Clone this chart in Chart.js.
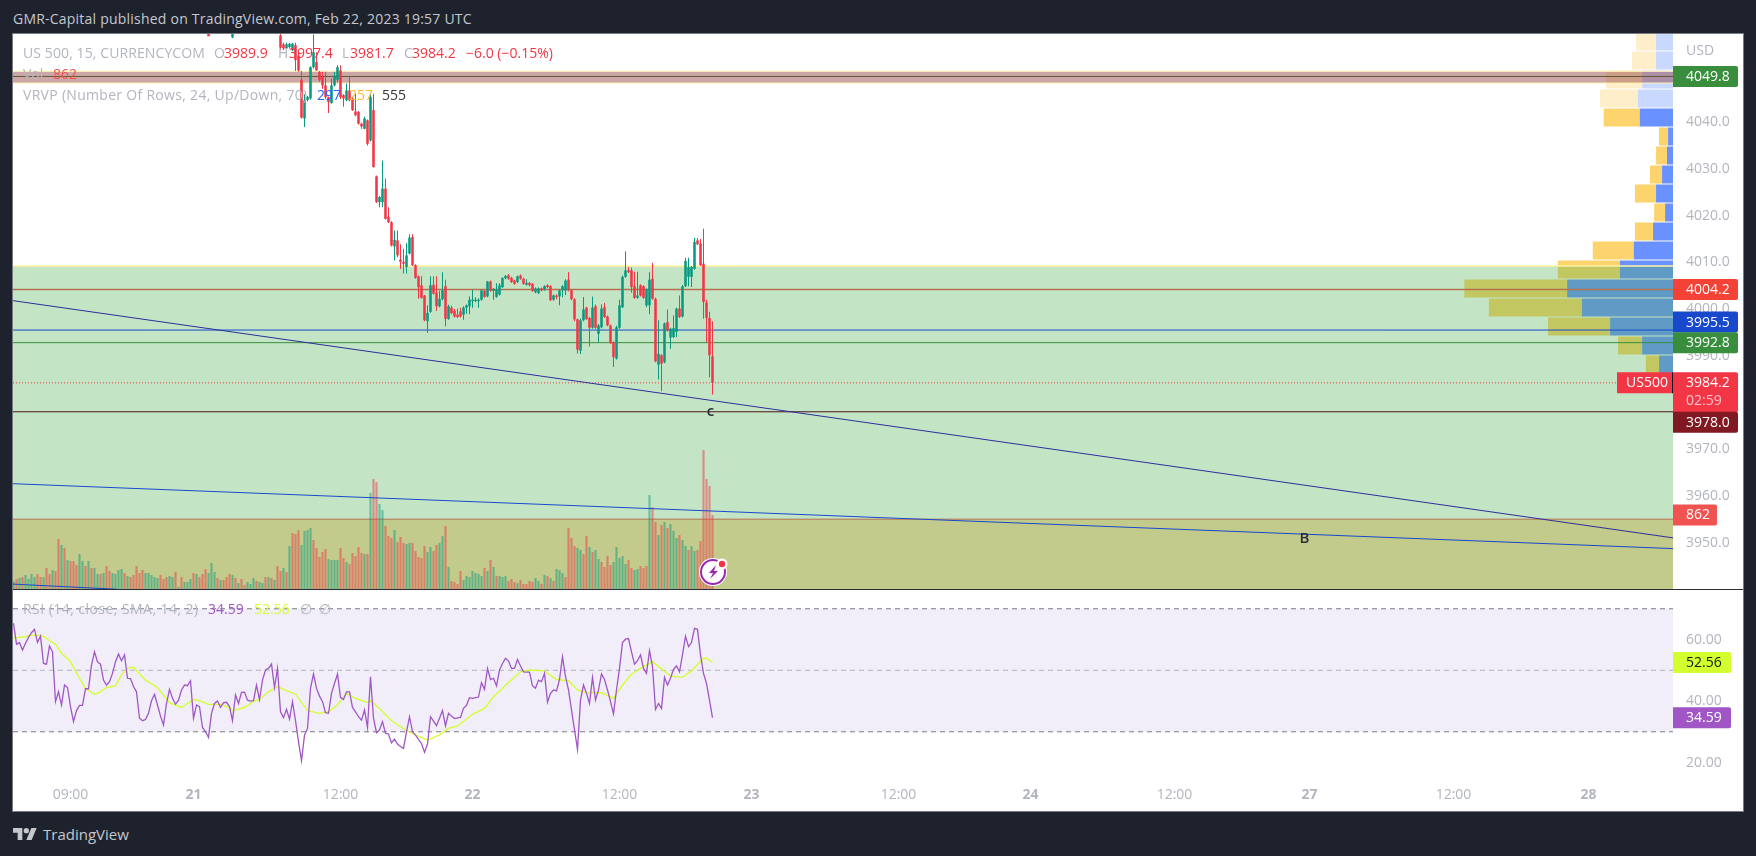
<!DOCTYPE html>
<html>
<head>
<meta charset="utf-8">
<title>US 500, 15</title>
<script src="https://cdn.jsdelivr.net/npm/chart.js@4/dist/chart.umd.min.js"></script>
<style>
  html, body { margin: 0; padding: 0; width: 1756px; height: 856px; overflow: hidden; background: #1e222d; }
  body, canvas { font-family: "Open Sans", sans-serif; }
  #frame { position: absolute; left: 12px; top: 33px; width: 1730px; height: 777px; background: #fff; border: 1px solid #787b86; }
  #divider { position: absolute; left: 13px; top: 589px; width: 1730px; height: 1px; background: #2a2e39; z-index: 5; }
  canvas { position: absolute; }
  #vrvp { left: 1433px; top: 32px; clip-path: inset(2px 0 0 0); }
  #main { left: 13px; top: 34px; }
  #rsi { left: 13px; top: 590px; }
  .t { position: absolute; white-space: nowrap; font-size: 14px; line-height: 18px; color: #b2b5be; z-index: 6; }
  .r { color: #f23645; }
  svg { position: absolute; z-index: 6; }
</style>
</head>
<body>
<div id="frame"></div>
<canvas id="vrvp" width="240" height="342"></canvas>
<canvas id="main" width="1730" height="555"></canvas>
<canvas id="rsi" width="1730" height="221"></canvas>
<div id="divider"></div>

<div class="t" style="left:13px;top:10px;color:#c5c7cd;letter-spacing:.22px">GMR-Capital published on TradingView.com, Feb 22, 2023 19:57 UTC</div>

<!-- legend rows -->
<div class="t" style="left:23px;top:44px;letter-spacing:.1px">US 500, 15, CURRENCYCOM</div>
<div class="t" style="left:214px;top:44px">O</div><div class="t r" style="left:224px;top:44px">3989.9</div>
<div class="t" style="left:278px;top:44px">H</div><div class="t r" style="left:289px;top:44px">3997.4</div>
<div class="t" style="left:342px;top:44px">L</div><div class="t r" style="left:350px;top:44px">3981.7</div>
<div class="t" style="left:404px;top:44px">C</div><div class="t r" style="left:412px;top:44px">3984.2</div>
<div class="t r" style="left:466px;top:44px">−6.0 (−0.15%)</div>
<div class="t" style="left:23px;top:65px">Vol</div><div class="t" style="left:53px;top:65px;color:#f05350">862</div>
<div class="t" style="left:23px;top:86px;letter-spacing:.3px">VRVP (Number Of Rows, 24, Up/Down, 70)</div>
<div class="t" style="left:317px;top:86px;color:#2962ff">297</div>
<div class="t" style="left:349px;top:86px;color:#ffb62f">257</div>
<div class="t" style="left:382px;top:86px;color:#333">555</div>
<div class="t" style="left:1686px;top:41px">USD</div>

<div class="t" style="left:23px;top:600px;letter-spacing:.45px">RSI (14, close, SMA, 14, 2)</div>
<div class="t" style="left:208px;top:600px;color:#a056c5">34.59</div>
<div class="t" style="left:254px;top:600px;color:#d4ff2e">52.56</div>
<div class="t" style="left:300px;top:600px">∅</div>
<div class="t" style="left:319px;top:600px">∅</div>

<!-- alert badge -->
<svg style="left:695px;top:554px" width="36" height="36" viewBox="0 0 36 36">
  <circle cx="18" cy="18" r="14" fill="#fff"/>
  <circle cx="18" cy="18" r="12" fill="#fff" stroke="#9c27b0" stroke-width="2"/>
  <path d="M21 11l-7 8h4l-3 6 8-8h-4z" fill="#9c27b0"/>
  <circle cx="27" cy="10" r="5.5" fill="#fff"/>
  <circle cx="27" cy="10" r="3.2" fill="#f23645"/>
</svg>

<!-- footer -->
<svg style="left:13px;top:827px" width="24" height="14" viewBox="0 4 36 18">
  <path d="M14 22H7V11H0V4h14v18zM28 22h-8l7.5-18h8L28 22z" fill="#c5c7cd"/>
  <circle cx="20" cy="8" r="4" fill="#c5c7cd"/>
</svg>
<div class="t" style="left:43px;top:825px;font-size:15px;font-weight:500;color:#c5c7cd">TradingView</div>

<script>
// US 500 15 min. Bars are spaced by index.
const FONT = '"Open Sans", sans-serif';
const RED = '#f23645';
const TEAL = '#089981';

// Bars above the top of the pane are left out, only these two poke into view
const topIdx = [65, 73];
const firstCandle = 89;

const candleOpen = [4059.5, 4058.2,
  4058.6,4056.7,4055.8,4056.1,4055.4,4056.5,4054.3,4049.1,4040.8,4044.8,
  4045.1,4051.8,4052.9,4050.8,4049.7,4047.9,4045.4,4044.1,4047.9,4049.1,
  4051.1,4045.8,4044.7,4046.8,4045.1,4042.3,4042.2,4039.7,4038.6,4040.4,
  4036.1,4042.6,4028.4,4022.9,4022.9,4025.8,4019.8,4018.6,4013.4,4014.7,
  4010.6,4010.1,4009.0,4011.9,4015.4,4009.4,4007.0,4005.1,4002.9,3997.4,
  3999.4,4005.2,4003.5,4000.6,4002.1,4004.9,3997.9,4000.3,3999.6,3998.8,
  3999.5,3998.8,4000.3,4000.6,4001.7,4001.7,4001.7,4002.0,4003.9,4002.7,
  4005.9,4003.9,4002.6,4003.1,4004.7,4006.6,4007.2,4006.7,4006.1,4005.8,
  4007.2,4006.5,4005.2,4005.6,4005.4,4003.6,4003.4,4004.4,4004.1,4005.1,
  4004.9,4002.0,4002.9,4002.7,4004.0,4004.0,4006.3,4004.0,4002.1,3997.8,
  3991.1,3997.6,4000.3,3998.1,3996.0,4000.6,3994.7,3996.1,4000.4,3998.4,
  3996.5,3992.9,3989.4,3996.0,4000.4,4006.9,4008.3,4008.3,4004.9,4002.4,
  4005.1,4004.9,4000.8,4000.8,4006.5,4002.2,3988.1,3990.1,3988.6,3997.2,
  3993.9,3994.0,3995.1,4000.1,3998.4,4004.9,4006.9,4006.9,4008.6,4014.7,
  4014.0,4009.7,4001.4,3998.1,3989.9];
const candleHigh = [4060.5, 4059.2,
  4059.0,4057.0,4057.0,4057.0,4057.0,4057.0,4055.0,4051.0,4046.0,4045.6,
  4052.0,4058.8,4055.0,4051.0,4050.8,4050.8,4045.5,4049.3,4050.8,4052.2,
  4052.2,4046.0,4048.3,4049.7,4045.3,4046.1,4042.4,4039.9,4041.2,4040.6,
  4046.0,4046.1,4028.6,4024.2,4031.8,4027.9,4021.8,4018.8,4016.8,4016.8,
  4013.9,4012.9,4014.1,4016.0,4016.0,4009.6,4007.2,4007.0,4003.0,4000.8,
  4007.0,4007.0,4007.0,4003.9,4007.9,4006.3,4000.9,4000.7,4000.0,4000.1,
  4000.3,4000.6,4001.0,4002.7,4004.1,4002.5,4002.3,4004.2,4004.1,4006.0,
  4006.1,4004.5,4005.5,4005.5,4006.8,4007.3,4007.5,4006.9,4006.3,4007.2,
  4007.4,4006.7,4006.4,4005.8,4005.6,4004.6,4004.6,4004.6,4005.1,4005.3,
  4005.1,4003.1,4003.1,4004.2,4005.1,4006.4,4007.9,4004.2,4002.3,3998.0,
  3997.9,4002.6,4000.5,3998.3,4002.7,4001.0,3996.8,4001.0,4001.3,3998.6,
  3996.7,3993.1,3996.4,4002.0,4007.2,4012.3,4009.0,4008.9,4008.0,4008.0,
  4005.3,4005.1,4004.4,4007.9,4009.9,4002.4,3997.6,3990.3,3997.1,3999.9,
  3996.0,3998.6,4000.3,4002.9,4005.1,4011.0,4011.0,4009.2,4015.2,4015.2,
  4015.0,4017.2,4002.0,3999.4,3997.4];
const candleLow = [4059.0, 4058.0,
  4055.5,4055.5,4055.5,4055.8,4055.2,4051.0,4050.8,4040.8,4039.0,4044.5,
  4044.8,4051.5,4051.0,4048.7,4047.2,4045.0,4042.0,4044.0,4047.7,4048.5,
  4045.0,4043.3,4044.5,4044.5,4042.4,4041.3,4039.5,4038.6,4038.5,4035.0,
  4035.9,4030.3,4022.7,4021.8,4021.8,4019.2,4018.4,4013.4,4010.4,4011.1,
  4008.6,4007.6,4007.6,4011.7,4009.2,4006.5,4002.2,4002.2,3997.4,3994.9,
  3999.2,4003.1,3999.6,4000.4,4001.9,3996.3,3997.7,3998.9,3998.2,3998.1,
  3998.2,3997.7,3999.0,3998.9,4000.3,4001.5,4000.3,4001.8,4002.4,4002.5,
  4003.7,4002.0,4002.4,4002.9,4004.5,4006.4,4006.3,4005.6,4005.2,4005.6,
  4006.3,4005.2,4005.0,4004.9,4003.7,4003.4,4003.2,4003.8,4003.9,4004.5,
  4001.7,4001.8,4002.1,4000.8,4002.5,4003.0,4003.8,4001.9,3997.4,3990.5,
  3990.4,3997.4,3997.7,3992.0,3995.8,3995.8,3992.9,3995.9,3998.1,3996.3,
  3992.5,3987.6,3989.2,3995.8,4000.2,4006.7,4007.7,4003.5,4002.2,4002.2,
  4002.7,4002.2,4000.4,3998.9,4002.0,3988.6,3984.9,3982.4,3988.4,3995.2,
  3991.5,3993.8,3994.0,3998.1,3998.2,4004.7,4004.9,4004.7,4008.4,4013.7,
  4009.2,3997.9,3992.9,3985.4,3981.7];
const candleClose = [4058.4, 4059.0,
  4056.0,4055.8,4056.7,4056.8,4056.8,4053.3,4051.1,4041.0,4044.7,4045.4,
  4051.8,4055.0,4051.1,4049.0,4047.9,4045.4,4044.3,4047.9,4049.7,4051.8,
  4045.4,4045.1,4046.8,4044.7,4042.6,4041.5,4039.7,4039.1,4040.8,4035.4,
  4045.4,4030.4,4022.9,4024.0,4025.8,4019.3,4018.6,4013.6,4014.8,4011.5,
  4010.1,4009.7,4011.5,4015.3,4009.4,4006.7,4004.7,4002.4,3997.6,3999.2,
  4005.1,4003.3,4000.6,4002.2,4004.0,3997.9,4000.6,3999.1,3998.4,3998.3,
  3998.4,4000.3,4000.8,4002.0,4002.0,4002.0,4002.0,4004.0,4002.6,4005.9,
  4003.9,4004.2,4004.2,4005.1,4006.6,4007.1,4006.5,4005.8,4005.4,4007.0,
  4006.5,4005.4,4005.6,4005.1,4003.9,4004.4,4004.4,4004.0,4004.9,4004.7,
  4001.9,4002.9,4002.6,4004.0,4004.9,4006.1,4004.0,4002.1,3997.8,3991.3,
  3997.6,3999.9,3997.9,3996.0,4000.3,3996.0,3996.5,4000.1,3998.3,3996.5,
  3992.9,3989.7,3996.1,4000.8,4006.9,4008.3,4007.9,4004.7,4002.4,4002.9,
  4002.9,4002.4,4004.2,4006.3,4002.2,3988.8,3990.4,3988.3,3996.9,3995.4,
  3995.8,3995.9,4000.1,3998.3,4004.9,4010.3,4009.0,4009.0,4014.4,4013.9,
  4009.4,4001.5,3998.1,3990.1,3984.2];

// one entry per bar from index 0, up flag gives the colour
const volumes = [
  89,116,128,140,163,116,175,140,175,140,
  140,245,175,221,210,582,513,478,338,326,
  326,280,408,326,268,326,245,245,175,175,
  186,268,210,186,175,221,233,186,151,140,
  163,268,186,221,186,186,163,140,128,163,
  116,140,151,140,198,23,140,82,82,116,
  186,175,140,175,233,186,303,198,128,105,
  105,140,175,163,128,70,116,47,82,58,
  128,93,82,70,140,140,128,105,268,210,
  245,198,501,652,641,687,513,676,687,711,
  571,478,373,431,466,349,338,338,338,478,
  361,315,291,419,384,489,419,408,408,1118,
  1281,1246,990,920,734,617,594,687,547,
  606,536,524,536,536,443,373,361,501,431,
  489,443,513,536,617,734,256,93,82,58,
  210,105,151,140,210,186,175,151,245,210,
  338,256,151,151,140,151,93,116,82,70,
  105,58,58,93,82,128,93,58,163,151,
  128,93,233,221,186,140,711,594,501,478,
  454,408,617,489,431,454,349,315,256,384,
  280,315,489,361,384,291,338,245,221,233,
  268,245,268,1095,955,780,629,746,780,711,
  757,676,594,629,571,501,454,501,443,454,
  559,1619,1281,1200,862];
const volumeUp = [
  1,0,1,0,1,1,1,1,0,0, 1,0,0,1,0,0,1,0,1,0,
  0,0,1,1,0,1,0,1,1,0, 1,0,0,1,1,1,1,0,1,0,
  0,0,0,0,1,1,1,1,1,0, 0,0,1,1,0,1,0,1,1,1,
  0,1,0,0,0,1,1,1,0,1, 0,0,0,1,0,1,0,0,1,1,
  1,0,1,1,0,1,0,1,0,0, 1,0,1,0,0,0,1,1,1,1,
  0,0,0,0,0,1,1,1,1,0, 0,1,0,0,0,0,0,1,0,1,
  0,0,1,1,0,0,0,1,0,
  0,0,1,1,0,0,0,0,0,1, 1,0,0,1,1,0,1,0,0,0,
  0,1,1,1,1,1,1,1,0,1, 0,1,0,1,1,1,0,0,0,1,
  0,0,0,0,0,1,1,0,1,0, 1,0,1,1,1,0,0,0,0,1,
  1,0,0,1,0,1,1,0,0,0, 0,1,1,1,1,1,0,0,1,1,
  0,0,0,1,0,0,1,0,1,0, 1,1,1,0,1,1,0,1,1,0,
  0,0,0,0,0];

const rsiValues = [
  65.3,58.5,59.0,56.6,58.8,60.7,62.2,63.3,59.1,61.1,
  52.2,52.0,57.9,56.0,39.8,43.0,38.7,45.2,44.4,38.2,
  33.3,36.9,38.6,38.6,44.0,44.0,51.7,56.0,52.7,52.0,
  46.8,45.2,46.3,49.0,52.8,55.3,53.1,55.0,47.4,47.3,
  44.7,43.0,34.4,33.6,34.0,36.0,40.1,42.2,38.7,35.1,
  32.2,39.2,43.8,40.9,39.0,40.3,43.6,45.2,45.0,46.6,
  34.4,38.7,38.2,31.4,30.0,28.2,36.0,39.2,40.0,37.9,
  39.5,39.6,38.2,33.6,42.0,39.2,42.8,42.9,40.3,40.0,
  40.1,45.2,40.5,46.8,50.1,50.6,52.0,44.4,50.6,36.5,
  34.6,37.3,34.1,39.8,33.6,26.8,20.6,28.9,31.1,44.1,
  48.8,44.1,41.6,39.8,36.2,36.0,42.5,45.7,48.8,41.2,
  40.5,43.0,43.0,37.9,36.5,34.9,33.8,37.1,31.4,47.9,
  34.4,29.7,30.6,33.3,29.5,29.3,26.4,27.6,26.0,
  25.2,24.6,30.0,34.9,30.0,28.9,27.5,26.2,23.3,26.0,
  34.9,33.5,32.0,34.4,36.9,31.9,36.0,35.1,34.3,34.5,
  34.7,37.6,38.6,41.1,40.9,41.1,41.3,46.0,43.8,50.6,
  47.0,47.4,44.9,50.1,52.2,53.9,53.0,50.6,50.6,53.5,
  51.4,49.5,49.4,49.4,44.9,44.2,46.8,46.3,49.0,39.6,
  42.5,43.6,43.3,47.0,54.4,47.9,43.6,37.1,30.6,24.3,
  40.3,45.2,42.5,39.2,47.7,40.3,43.6,48.8,47.0,43.6,
  39.8,35.8,43.6,50.6,59.0,60.1,60.3,56.0,52.0,53.1,
  55.0,50.6,49.0,56.4,51.2,37.3,39.2,37.6,47.7,45.2,
  47.4,50.3,51.4,49.5,55.0,61.1,57.7,59.0,63.6,63.3,
  55.0,49.0,45.7,40.3,34.59];

// SMA of the RSI, read at these bars only
const smaIdx = [0,2,4,6,10,12,14,16,19,22,24,27,29,31,34,36,38,40,44,48,52,56,60,62,65,69,72,73,77,80,82,85,88,91,94,98,102,105,108,111,114,118,119,122,126,131,134,138,142,145,148,153,157,160,165,169,172,177,181,185,188,191,196,200,203,206,209,213,219,223,226,230,231,233];
const smaValues = [60.4,60.7,60.9,61.5,61.1,59.6,58.5,55.5,52.8,47.4,44.1,42.2,43.0,44.4,44.9,48.5,50.6,51.0,46.8,44.4,39.5,37.9,40.5,40.1,38.9,39.0,37.8,36.9,37.9,39.9,40.5,43.0,44.7,43.4,42.3,36.9,36.0,36.5,38.7,42.5,40.9,39.5,40.1,37.6,33.6,30.4,29.0,27.3,29.0,31.1,31.9,35.7,37.6,41.4,46.0,49.5,50.1,49.8,47.0,46.6,43.6,42.7,42.7,40.9,45.2,48.7,50.6,52.8,48.1,47.7,49.8,53.9,53.9,52.56];

// Volume profile rows, top to bottom
const vrvpRows = ['4056','4052','4048','4044','4040','4036','4032','4028','4024','4020','4016','4012','4008','4004','4000','3996','3992','3988'];
const vrvpUp = [45,45,82,93,88,13,16,29,45,21,53,104,141,281,242,167,82,37];
const vrvpDown = [53,64,96,101,96,24,29,32,56,29,48,109,165,273,247,165,64,35];
const vrvpPale = 4; // rows above the range of the profile are washed out

// Axis labels
const priceTicks = [3950,3960,3970,3980,3990,4000,4010,4020,4030,4040,4050];
const rsiTicks = [20,40,60];
const timeTickIdx = [19,60,109,153,202,246,295,339,387,432,480,525];
const timeTickLabels = ['09:00','21','12:00','22','12:00','23','12:00','24','12:00','27','12:00','28'];

// Drawings on the price pane
const greenZone = [4009.2, 3940];
const oliveZone = [3955.0, 3940];
const redBand = [4050.9, 4048.4];
const levelPrices = [4049.8, 4004.2, 3995.5, 3992.8, 3978.0];
const levelColors = ['#5f5a34', '#b5714f', '#1848cc', '#388e3c', '#4a1215'];
const levelBadgeColors = ['#388e3c', '#f44336', '#1848cc', '#388e3c', '#801922'];
const levelBadgeShift = [0, 0, -8, 0, 10.5]; // the price scale pushes crowded labels apart
const lastPrice = 3984.2;
const lastVolume = 862;
const trendA = [[-0.17, 4001.8], [553.17, 3951.0]];
const trendB = [[-0.17, 3962.6], [553.17, 3948.7]];
const trendC = [[-0.17, 3941.1], [34.3, 3940.0]];
const noteText = ['c', 'B'];
const noteIdx = [232.3, 430.3];
const notePrice = [3978.0, 3950.9];

const xMin = -1 / 6;
const xMax = xMin + 1660 / 3;
const candleIdx = topIdx.concat(candleOpen.slice(2).map((_, i) => firstCandle + i));
const pts = (pairs) => pairs.map(([x, y]) => ({ x, y }));

// Keep the plot area exactly where the pane is
const fixedY = (scale) => { scale.width = 70; scale.paddingTop = 0; scale.paddingBottom = 0; };

function badge(ctx, x, y, w, h, color, text, textColor, textX) {
  ctx.fillStyle = color;
  ctx.beginPath();
  ctx.roundRect(x, y, w, h, [0, 2, 2, 0]);
  ctx.fill();
  ctx.fillStyle = textColor;
  ctx.textAlign = 'left';
  ctx.textBaseline = 'middle';
  ctx.font = `14px ${FONT}`;
  ctx.fillText(text, textX, y + h / 2 + 0.5);
}

const zonesPlugin = {
  id: 'zones',
  beforeDatasetsDraw(chart) {
    const { ctx, chartArea: a, scales: { y } } = chart;
    const box = (range, color) => {
      const top = y.getPixelForValue(range[0]);
      ctx.fillStyle = color;
      ctx.fillRect(a.left, top, a.width, y.getPixelForValue(range[1]) - top);
    };
    const hline = (value, color, width) => {
      const py = y.getPixelForValue(value);
      ctx.strokeStyle = color;
      ctx.lineWidth = width;
      ctx.beginPath();
      ctx.moveTo(a.left, py);
      ctx.lineTo(a.right, py);
      ctx.stroke();
    };
    ctx.save();
    box(greenZone, 'rgba(76,175,80,0.33)');
    hline(greenZone[0], '#fff3a0', 1.5);
    box(oliveZone, 'rgba(189,144,3,0.3)');
    hline(oliveZone[0], '#b5714f', 1);
    box(redBand, 'rgba(130,35,35,0.4)');
    hline(redBand[0], '#fff3b0', 1);
    hline(redBand[1], '#fff3b0', 1);
    levelPrices.forEach((p, i) => hline(p, levelColors[i], i === 1 ? 1.5 : 1));
    // last price, dotted up to the symbol label
    const ly = y.getPixelForValue(lastPrice);
    ctx.strokeStyle = RED;
    ctx.lineWidth = 1;
    ctx.setLineDash([1, 2]);
    ctx.beginPath();
    ctx.moveTo(a.left, ly);
    ctx.lineTo(a.right, ly);
    ctx.stroke();
    ctx.restore();
  }
};

const labelsPlugin = {
  id: 'labels',
  afterDraw(chart) {
    const { ctx, chartArea: a, scales: { x, y, yVol } } = chart;
    ctx.save();
    // notes on the chart
    ctx.font = `600 15px ${FONT}`;
    ctx.fillStyle = '#2a2e39';
    ctx.textAlign = 'center';
    ctx.textBaseline = 'middle';
    noteText.forEach((t, i) => ctx.fillText(t, x.getPixelForValue(noteIdx[i]), y.getPixelForValue(notePrice[i])));

    const textX = a.right + 13;
    // last price sits under the drawing badges
    const ly = y.getPixelForValue(lastPrice);
    badge(ctx, a.right - 56, ly - 10.5, 56, 21, RED, 'US500', '#fff', a.right - 47);
    ctx.fillStyle = '#131722';
    ctx.fillRect(a.right - 1, ly - 10.5, 1, 21);
    ctx.fillStyle = RED;
    ctx.beginPath();
    ctx.roundRect(a.right, ly - 10.5, 65, 40, [0, 2, 2, 0]);
    ctx.fill();
    ctx.fillStyle = '#fff';
    ctx.font = `14px ${FONT}`;
    ctx.textAlign = 'left';
    ctx.fillText(lastPrice.toFixed(1), textX, ly + 0.5);
    ctx.fillStyle = '#fcc4c9';
    ctx.fillText('02:59', textX, ly + 18);

    levelPrices.forEach((p, i) => {
      const py = y.getPixelForValue(p) + levelBadgeShift[i];
      badge(ctx, a.right, py - 10.5, 65, 21, levelBadgeColors[i], p.toFixed(1), '#fff', textX);
    });
    const vy = yVol.getPixelForValue(lastVolume);
    badge(ctx, a.right, vy - 10.5, 44, 21, '#f05350', String(lastVolume), '#fff', textX);
    ctx.restore();
  }
};

const rsiPlugin = {
  id: 'rsiBand',
  beforeDatasetsDraw(chart) {
    const { ctx, chartArea: a, scales: { y } } = chart;
    const top = y.getPixelForValue(70);
    const bottom = y.getPixelForValue(30);
    ctx.save();
    ctx.fillStyle = 'rgba(126,87,194,0.1)';
    ctx.fillRect(a.left, top, a.width, bottom - top);
    ctx.lineWidth = 1;
    ctx.setLineDash([5, 4]);
    [[70, '#787b86'], [50, '#b2b5be'], [30, '#787b86']].forEach(([v, color]) => {
      const py = y.getPixelForValue(v);
      ctx.strokeStyle = color;
      ctx.beginPath();
      ctx.moveTo(a.left, py);
      ctx.lineTo(a.right, py);
      ctx.stroke();
    });
    ctx.restore();
  },
  afterDraw(chart) {
    const { ctx, chartArea: a, scales: { y } } = chart;
    ctx.save();
    const sma = smaValues[smaValues.length - 1];
    const rsi = rsiValues[rsiValues.length - 1];
    badge(ctx, a.right, y.getPixelForValue(sma) - 10.5, 58, 21, '#d4ff2e', sma.toFixed(2), '#131722', a.right + 13);
    badge(ctx, a.right, y.getPixelForValue(rsi) - 10.5, 58, 21, '#a056c5', rsi.toFixed(2), '#fff', a.right + 13);
    ctx.restore();
  }
};

Chart.defaults.font.family = FONT;
Chart.defaults.font.size = 14;
Chart.defaults.animation = false;

// Volume profile goes under the main canvas so the zones tint it
new Chart(document.getElementById('vrvp'), {
  type: 'bar',
  data: {
    labels: vrvpRows,
    datasets: [
      { data: vrvpUp, backgroundColor: vrvpUp.map((_, i) => i < vrvpPale ? 'rgba(41,98,255,0.25)' : 'rgba(41,98,255,0.7)'), barPercentage: 0.95, categoryPercentage: 1 },
      { data: vrvpDown, backgroundColor: vrvpDown.map((_, i) => i < vrvpPale ? 'rgba(251,192,45,0.25)' : 'rgba(251,192,45,0.7)'), barPercentage: 0.95, categoryPercentage: 1 }
    ]
  },
  options: {
    indexAxis: 'y',
    responsive: false,
    layout: { padding: 0 },
    plugins: { legend: { display: false }, tooltip: { enabled: false } },
    scales: {
      x: { stacked: true, reverse: true, min: 0, max: 637.2, display: false },
      y: { stacked: true, display: false }
    }
  }
});

new Chart(document.getElementById('main'), {
  type: 'bar',
  plugins: [zonesPlugin, labelsPlugin],
  data: {
    datasets: [
      {
        type: 'line', order: 0, data: pts(trendA), borderColor: '#2d2d9a', borderWidth: 1, pointRadius: 0
      },
      {
        type: 'line', order: 0, data: pts(trendB), borderColor: '#1848cc', borderWidth: 1, pointRadius: 0
      },
      {
        type: 'line', order: 0, data: pts(trendC), borderColor: '#1848cc', borderWidth: 1, pointRadius: 0
      },
      {
        order: 1, grouped: false, barPercentage: 0.85, categoryPercentage: 1, inflateAmount: 0,
        data: candleIdx.map((x, i) => ({ x, y: [candleOpen[i], candleClose[i]] })),
        backgroundColor: candleIdx.map((_, i) => candleClose[i] >= candleOpen[i] ? TEAL : RED)
      },
      {
        order: 2, grouped: false, barPercentage: 1 / 3, categoryPercentage: 1, inflateAmount: 0,
        data: candleIdx.map((x, i) => ({ x, y: [candleLow[i], candleHigh[i]] })),
        backgroundColor: candleIdx.map((_, i) => candleClose[i] >= candleOpen[i] ? TEAL : RED)
      },
      {
        order: 3, grouped: false, barPercentage: 0.72, categoryPercentage: 1, inflateAmount: 0, yAxisID: 'yVol',
        data: volumes.map((v, i) => ({ x: i, y: v })),
        backgroundColor: volumeUp.map((u) => u ? 'rgba(8,153,129,0.5)' : 'rgba(242,54,69,0.5)')
      }
    ]
  },
  options: {
    responsive: false,
    layout: { padding: 0 },
    plugins: { legend: { display: false }, tooltip: { enabled: false } },
    scales: {
      x: { type: 'linear', offset: false, min: xMin, max: xMax, display: false },
      y: {
        position: 'right', min: 3940.05, max: 4058.9,
        grid: { display: false, drawTicks: false }, border: { display: false },
        afterBuildTicks: (s) => { s.ticks = priceTicks.map((value) => ({ value })); },
        afterFit: fixedY,
        ticks: { padding: 13, color: '#b2b5be', callback: (v) => v.toFixed(1) }
      },
      yVol: { position: 'left', min: 0, max: 6465, display: false }
    }
  }
});

// day labels are bold, hours are not
const timeTickFont = (c) => {
  const label = c.tick ? timeTickLabels[timeTickIdx.indexOf(c.tick.value)] : null;
  return { weight: label && !label.includes(':') ? 'bold' : 'normal' };
};

new Chart(document.getElementById('rsi'), {
  type: 'line',
  plugins: [rsiPlugin],
  data: {
    datasets: [
      {
        data: smaIdx.map((x, i) => ({ x, y: smaValues[i] })),
        borderColor: '#d4ff2e', borderWidth: 1.4, pointRadius: 0, order: 1
      },
      {
        data: rsiValues.map((y, x) => ({ x, y })),
        borderColor: '#a056c5', borderWidth: 1.3, pointRadius: 0, order: 0
      }
    ]
  },
  options: {
    responsive: false,
    layout: { padding: 0 },
    plugins: { legend: { display: false }, tooltip: { enabled: false } },
    scales: {
      x: {
        type: 'linear', min: xMin, max: xMax,
        grid: { display: false, drawTicks: false }, border: { display: false },
        afterBuildTicks: (s) => { s.ticks = timeTickIdx.map((value) => ({ value })); },
        afterFit: (s) => { s.height = 30; s.paddingLeft = 0; s.paddingRight = 0; },
        ticks: {
          padding: 6, color: '#b2b5be', autoSkip: false, maxRotation: 0,
          callback: (v) => timeTickLabels[timeTickIdx.indexOf(v)],
          font: timeTickFont
        }
      },
      y: {
        position: 'right', min: 14, max: 76.1,
        grid: { display: false, drawTicks: false }, border: { display: false },
        afterBuildTicks: (s) => { s.ticks = rsiTicks.map((value) => ({ value })); },
        afterFit: fixedY,
        ticks: { padding: 13, color: '#b2b5be', callback: (v) => v.toFixed(2) }
      }
    }
  }
});
</script>
</body>
</html>
